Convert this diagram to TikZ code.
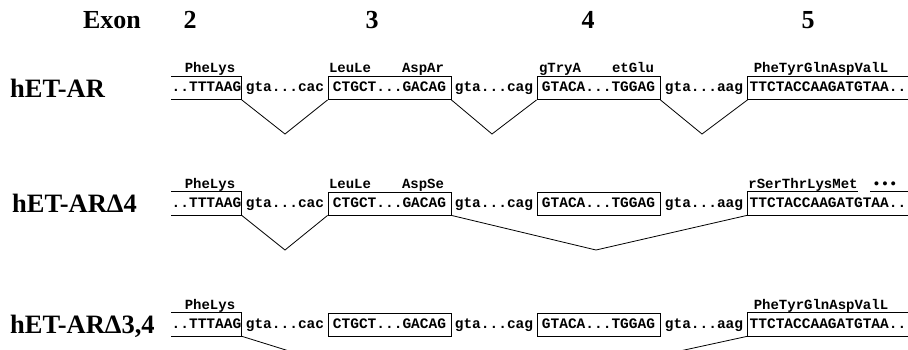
\documentclass[tikz,border=0pt]{standalone}
\usepackage{fontspec}
\setmainfont{Liberation Serif}
\setmonofont{Liberation Mono}

\begin{document}
\begin{tikzpicture}[x=1pt,y=-1pt,
        rowlabel/.style={anchor=base west,inner sep=0pt,font=\fontsize{26.5}{30}\selectfont\bfseries},
        exonhead/.style={anchor=base,inner sep=0pt,font=\fontsize{26}{30}\selectfont\bfseries},
        seq/.style={inner sep=0pt,text height=10pt,text depth=3pt,font=\fontsize{14.5}{16}\selectfont\ttfamily\bfseries},
        exonbox/.style={seq,minimum height=23pt},
        aa/.style={anchor=base,inner sep=0pt,font=\fontsize{14}{16}\selectfont\ttfamily\bfseries},
        boxline/.style={line width=0.8pt},
        splice/.style={line width=0.8pt}]
        \useasboundingbox (0,0) rectangle (908,349);
        \clip (0,0) rectangle (908,349);

        %%%%%%%%%% Exons %%%%%%%%%%
        \node[exonhead] (ex) at (112,28) {Exon};
        \node[exonhead] (ex2) at (190,28) {2};
        \node[exonhead] (ex3) at (372,28) {3};
        \node[exonhead] (ex4) at (588,28) {4};
        \node[exonhead] (ex5) at (808,28) {5};

        %%%%%%%%% hET-AR %%%%%%%%%
        \node[rowlabel] (lblA) at (10,97) {hET-AR};
        \node[exonbox,minimum width=69pt] (a2) at (206.5,88) {..TTTAAG};
        \node[seq] (a2i) at (285,88) {gta...cac};
        \node[exonbox,draw,boxline,minimum width=123pt] (a3) at (389.5,88) {CTGCT...GACAG};
        \node[seq] (a3i) at (494,88) {gta...cag};
        \node[exonbox,draw,boxline,minimum width=123pt] (a4) at (598.5,88) {GTACA...TGGAG};
        \node[seq] (a4i) at (704,88) {gta...aag};
        \node[exonbox,minimum width=160pt] (a5) at (828,88) {TTCTACCAAGATGTAA..};
        \draw[boxline] (a2.north west) -- (a2.north east) -- (a2.south east) -- (a2.south west);
        \draw[boxline] (a5.north east) -- (a5.north west) -- (a5.south west) -- (a5.south east);

        \node[aa] (a2p) at (210,72.5) {PheLys};
        \node[aa] (a3p) at (350,72.5) {LeuLe};
        \node[aa] (a3q) at (423,72.5) {AspAr};
        \node[aa] (a4p) at (560,72.5) {gTryA};
        \node[aa] (a4q) at (633,72.5) {etGlu};
        \node[aa] (a5p) at (821,72.5) {PheTyrGlnAspValL};

        \coordinate (a23) at (285,134);
        \coordinate (a34) at (492,134);
        \coordinate (a45) at (702,134);
        \draw[splice] (a2.south east) -- (a23) -- (a3.south west);
        \draw[splice] (a3.south east) -- (a34) -- (a4.south west);
        \draw[splice] (a4.south east) -- (a45) -- (a5.south west);

        %%%%%%%% hET-AR D4 %%%%%%%%
        \node[rowlabel] (lblB) at (12,212.5) {hET-ARΔ4};
        \node[exonbox,minimum width=69pt] (b2) at (206.5,203.5) {..TTTAAG};
        \node[seq] (b2i) at (285,203.5) {gta...cac};
        \node[exonbox,draw,boxline,minimum width=123pt] (b3) at (389.5,203.5) {CTGCT...GACAG};
        \node[seq] (b3i) at (494,203.5) {gta...cag};
        \node[exonbox,draw,boxline,minimum width=123pt] (b4) at (598.5,203.5) {GTACA...TGGAG};
        \node[seq] (b4i) at (704,203.5) {gta...aag};
        \node[exonbox,minimum width=160pt] (b5) at (828,203.5) {TTCTACCAAGATGTAA..};
        \draw[boxline] (b2.north west) -- (b2.north east) -- (b2.south east) -- (b2.south west);
        \draw[boxline] (b5.south east) -- (b5.south west) -- (b5.north west) -- ++(110,0);
        \draw[boxline] ([xshift=122pt]b5.north west) -- (b5.north east);

        \node[aa] (b2p) at (210,188) {PheLys};
        \node[aa] (b3p) at (350,188) {LeuLe};
        \node[aa] (b3q) at (423,188) {AspSe};
        \node[aa] (b5p) at (803,188) {rSerThrLysMet};
        \node[aa] (b5q) at (885,188) {•••};

        \coordinate (b23) at (285,250);
        \coordinate (b35) at (596,250);
        \draw[splice] (b2.south east) -- (b23) -- (b3.south west);
        \draw[splice] (b3.south east) -- (b35) -- (b5.south west);

        %%%%%%% hET-AR D3,4 %%%%%%%
        \node[rowlabel] (lblC) at (10,333.5) {hET-ARΔ3,4};
        \node[exonbox,minimum width=69pt] (c2) at (206.5,324.5) {..TTTAAG};
        \node[seq] (c2i) at (285,324.5) {gta...cac};
        \node[exonbox,draw,boxline,minimum width=123pt] (c3) at (389.5,324.5) {CTGCT...GACAG};
        \node[seq] (c3i) at (494,324.5) {gta...cag};
        \node[exonbox,draw,boxline,minimum width=123pt] (c4) at (598.5,324.5) {GTACA...TGGAG};
        \node[seq] (c4i) at (704,324.5) {gta...aag};
        \node[exonbox,minimum width=160pt] (c5) at (828,324.5) {TTCTACCAAGATGTAA..};
        \draw[boxline] (c2.north west) -- (c2.north east) -- (c2.south east) -- (c2.south west);
        \draw[boxline] (c5.north east) -- (c5.north west) -- (c5.south west) -- (c5.south east);

        \node[aa] (c2p) at (210,309) {PheLys};
        \node[aa] (c5p) at (821,309) {PheTyrGlnAspValL};

        \coordinate (c25) at (450,401);
        \draw[splice] (c2.south east) -- (c25) -- (c5.south west);
\end{tikzpicture}
\end{document}
